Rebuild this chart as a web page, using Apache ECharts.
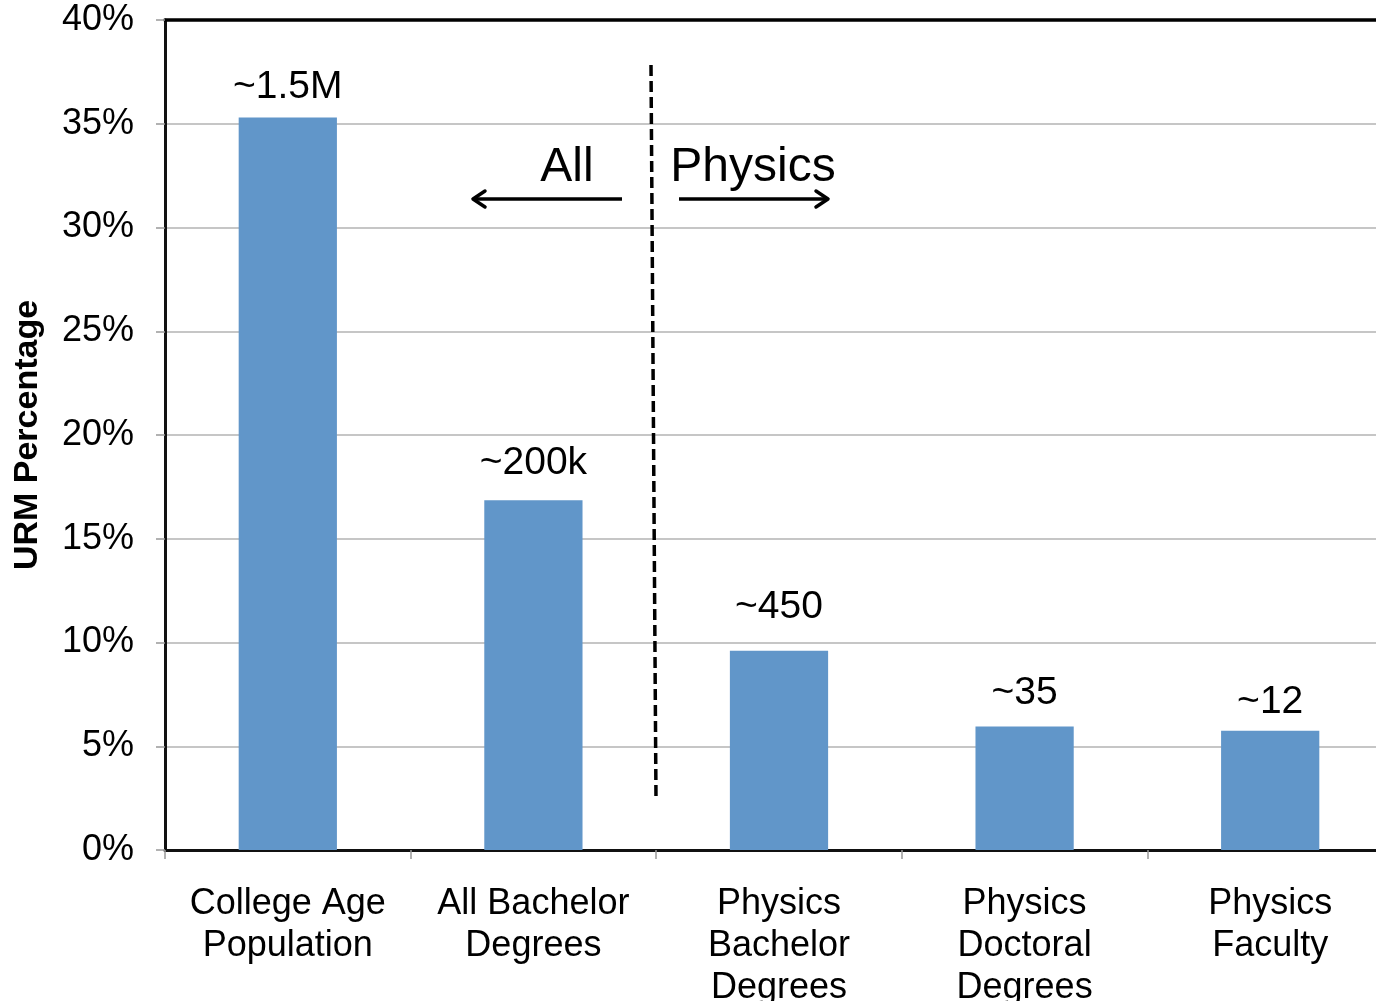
<!DOCTYPE html>
<html>
<head>
<meta charset="utf-8">
<style>
  html, body { margin: 0; padding: 0; background: #fff; }
  #chart { width: 1376px; height: 1001px; }
</style>
<script src="https://cdn.jsdelivr.net/npm/echarts@6/dist/echarts.min.js"></script>
</head>
<body>
<div id="chart"></div>
<script>
// Share of under-represented minorities at each stage
const categories = [
  'College Age\nPopulation',
  'All Bachelor\nDegrees',
  'Physics\nBachelor\nDegrees',
  'Physics\nDoctoral\nDegrees',
  'Physics\nFaculty'
];
const urmPercent = [35.3, 16.85, 9.6, 5.95, 5.75];
const headcountLabels = ['~1.5M', '~200k', '~450', '~35', '~12'];
const yTicks = { min: 0, max: 40, interval: 5 };

// gap between each headcount label and its bar
const labelGaps = [11, 18, 24, 14, 9];

const FONT = '"Liberation Sans", Arial, Helvetica, sans-serif';
const chart = echarts.init(document.getElementById('chart'), null, { renderer: 'canvas' });

const barData = urmPercent.map((v, i) => ({
  value: v,
  label: { distance: labelGaps[i] }
}));

chart.setOption({
  animation: false,
  backgroundColor: '#ffffff',
  grid: {
    left: 165, top: 20, right: -17, bottom: 151,
    containLabel: false,
    outerBoundsMode: 'none'
  },
  xAxis: [
    {
      type: 'category',
      data: categories,
      axisLine: { lineStyle: { color: '#111', width: 3 } },
      axisTick: { show: true, length: 9, lineStyle: { color: '#999', width: 1.5 } },
      axisLabel: {
        interval: 0, margin: 33, color: '#000',
        fontFamily: FONT, fontSize: 36, lineHeight: 42
      }
    },
    {
      type: 'category',
      position: 'top',
      data: categories,
      axisLine: { lineStyle: { color: '#000', width: 3.5 } },
      axisTick: { show: false },
      axisLabel: { show: false }
    }
  ],
  yAxis: {
    type: 'value',
    min: yTicks.min, max: yTicks.max, interval: yTicks.interval,
    name: 'URM Percentage',
    nameLocation: 'middle',
    nameGap: 120,
    nameTextStyle: { fontFamily: FONT, fontSize: 34, fontWeight: 'bold', color: '#000' },
    axisLine: { show: true, lineStyle: { color: '#111', width: 3 } },
    axisTick: { show: true, length: 9, lineStyle: { color: '#999', width: 1.5 } },
    axisLabel: {
      margin: 31, color: '#000', fontFamily: FONT, fontSize: 36,
      padding: [5, 0, 0, 0],
      formatter: v => v + '%'
    },
    splitLine: { lineStyle: { color: '#b3b3b3', width: 1.5 } }
  },
  series: [{
    type: 'bar',
    data: barData,
    barWidth: '40%',
    itemStyle: { color: '#6196C9' },
    label: {
      show: true,
      position: 'top',
      color: '#000',
      fontFamily: FONT,
      fontSize: 39,
      formatter: p => headcountLabels[p.dataIndex]
    }
  }],
  graphic: [
    // divider between all-field and physics-only stages
    {
      type: 'line', silent: true, z: 100,
      shape: { x1: 651, y1: 65, x2: 656, y2: 800 },
      style: { stroke: '#000', lineWidth: 3.5, lineDash: [11, 5] }
    },
    // left arrow
    {
      type: 'line', silent: true, z: 100,
      shape: { x1: 622, y1: 199, x2: 473, y2: 199 },
      style: { stroke: '#000', lineWidth: 3.5 }
    },
    {
      type: 'polyline', silent: true, z: 100,
      shape: { points: [[485, 191], [473, 199], [485, 207]] },
      style: { stroke: '#000', lineWidth: 3.5, fill: null, lineJoin: 'round', lineCap: 'round' }
    },
    // right arrow
    {
      type: 'line', silent: true, z: 100,
      shape: { x1: 679, y1: 199, x2: 828, y2: 199 },
      style: { stroke: '#000', lineWidth: 3.5 }
    },
    {
      type: 'polyline', silent: true, z: 100,
      shape: { points: [[816, 191], [828, 199], [816, 207]] },
      style: { stroke: '#000', lineWidth: 3.5, fill: null, lineJoin: 'round', lineCap: 'round' }
    },
    {
      type: 'text', silent: true, z: 100,
      x: 567, y: 168,
      style: {
        text: 'All', fill: '#000', font: '48px ' + FONT,
        align: 'center', verticalAlign: 'middle'
      }
    },
    {
      type: 'text', silent: true, z: 100,
      x: 753, y: 168,
      style: {
        text: 'Physics', fill: '#000', font: '48px ' + FONT,
        align: 'center', verticalAlign: 'middle'
      }
    }
  ]
});
</script>
</body>
</html>
